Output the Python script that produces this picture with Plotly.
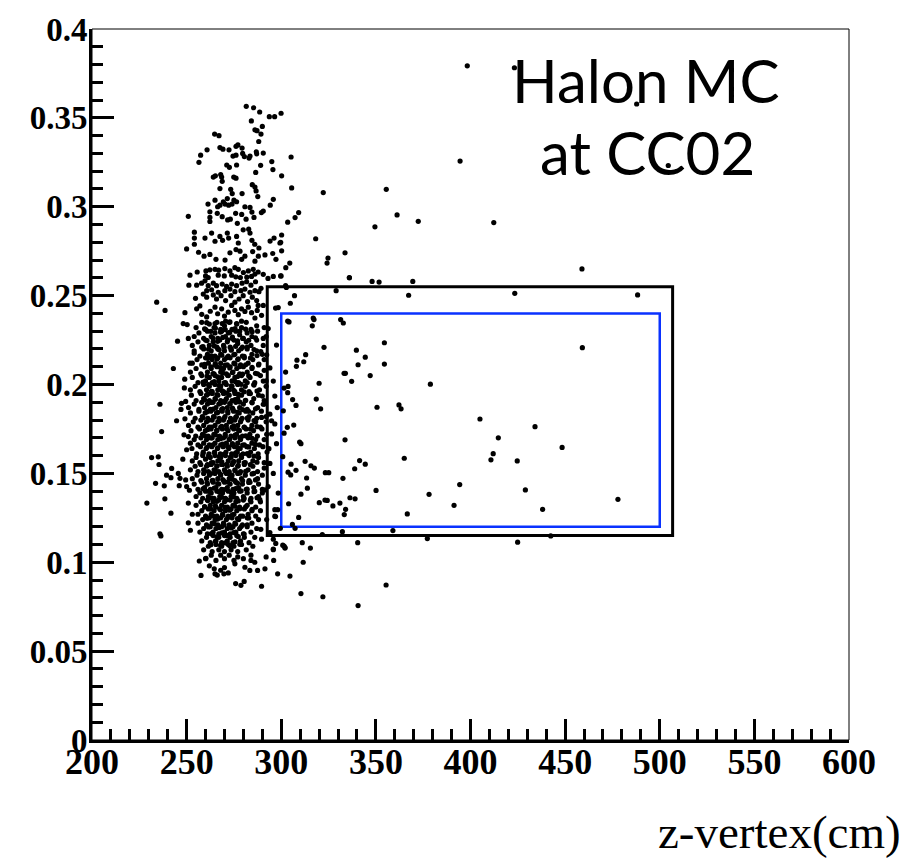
import plotly.graph_objects as go

# ---------------- data (z-vertex [cm], y value) ----------------
x_ticks = [200, 250, 300, 350, 400, 450, 500, 550, 600]
x_ticklabels = ["200", "250", "300", "350", "400", "450", "500", "550", "600"]
y_ticks = [0, 0.05, 0.1, 0.15, 0.2, 0.25, 0.3, 0.35, 0.4]
y_ticklabels = ["0", "0.05", "0.1", "0.15", "0.2", "0.25", "0.3", "0.35", "0.4"]

# selection boxes: [z_min, z_max, y_min, y_max]
box_outer = [292.6, 506.8, 0.115, 0.255]
box_inner = [300.0, 500.0, 0.120, 0.240]

label_lines = ["Halon MC", "at CC02"]
x_title = "z-vertex(cm)"

top_cluster = [
    (281.5,0.3565),(285.4,0.3557),(288.6,0.3533),(293.7,0.3507),(296.5,0.3507),(299.9,0.3526),(284.2,0.3483),
    (290,0.3452),(286.1,0.3433),(287.2,0.3428),(289.3,0.3409),(288.1,0.3367),(264.8,0.3409),(267.1,0.34),
    (257.4,0.329),(260.8,0.332),(256.5,0.325),(267.6,0.3333),(269.2,0.3324),(272.4,0.332),(276.1,0.334),
    (277.1,0.3348),(279.3,0.333),(274.5,0.3285),(276.1,0.329),(280.5,0.3282),(283,0.3274),(283.5,0.3285),
    (279.6,0.33),(286.8,0.3309),(287,0.3298),(290.5,0.3302),(295,0.3254),(271.2,0.3235),(272.6,0.3222),
    (276.4,0.3235),(264.1,0.3167),(265.2,0.3174),(268,0.3181),(268.5,0.3167),(268.8,0.3143),(274.9,0.3167),
    (276.1,0.3161),(289.1,0.3233),(286.5,0.3193),(295.6,0.3209),(267.6,0.3102),(273.3,0.3098),(274.1,0.3074),
    (284.7,0.3124),(286.1,0.3111),(286.7,0.3089),(287.6,0.3057),(279.3,0.3074),(271.5,0.3046),(269.4,0.3028),
    (270.3,0.3015),(272.2,0.3009),(275,0.3037),(276.4,0.3028),(274,0.3015),(280.8,0.3),(283.5,0.2996),
    (261.3,0.3015),(265,0.3037),(266.4,0.3),(267.6,0.3009),(295.8,0.3042),(294.2,0.3009),(290.5,0.2976),
    (289.5,0.2967),(250.9,0.2946),(262.3,0.2972),(262.3,0.294),(262.3,0.2917),(266.2,0.2963),(268.8,0.2944),
    (271.7,0.2926),(273.1,0.293),(275.9,0.2963),(276.8,0.2907),(279.1,0.2957),(281.4,0.293),(282.8,0.2874),
    (284.5,0.297),(285.6,0.294),(254.1,0.2857),(254.1,0.2824),(254.1,0.2789),(250,0.2763),(259.7,0.2824),
    (263.2,0.2852),(265,0.2806),(267.6,0.2833),(269,0.2811),(271.5,0.2852),(272.2,0.2824),(276.4,0.2833),
    (277.3,0.2796),(279.9,0.287),(283.5,0.2852),(284.5,0.2811),(286,0.2789),(288.2,0.2768),(294.1,0.2807),
    (296.2,0.2824),(299.3,0.2796),(256.3,0.2744),(259.2,0.2722),(262.3,0.2732),(265.5,0.2704),(270.3,0.27),
    (272.9,0.2741),(276.1,0.2759),(278.2,0.275),(279.1,0.2704),(280.8,0.2722),(284.9,0.2748),(287.9,0.2722),
    (291.4,0.2729),(295.5,0.2737),(297.2,0.2704),(286.1,0.2694),
]

upper_cluster = [
    (251.8,0.2615),(255.6,0.2633),(260.2,0.2639),(262.3,0.2645),(265,0.2648),(266.9,0.2643),(270.2,0.2652),
    (272.9,0.2639),(275.5,0.2657),(277.3,0.2648),(280,0.263),(282.6,0.2639),(285.2,0.2648),(287.8,0.2633),
    (290.5,0.262),(293,0.2597),(295.8,0.2608),(299.7,0.2611),(260,0.2611),(261.4,0.2602),(266.7,0.2615),
    (269.9,0.2611),(273.8,0.2615),(276,0.2606),(278.4,0.2602),(281.8,0.2604),(284.3,0.2608),(286.1,0.2621),
    (251.2,0.2559),(255.3,0.2559),(257.9,0.257),(259.7,0.2583),(261.4,0.2556),(264.1,0.257),(265.8,0.2556),
    (268.8,0.2565),(271.1,0.2552),(273.8,0.2565),(276.4,0.2556),(279.3,0.257),(281.7,0.2578),(284,0.2559),
    (286.4,0.2578),(289.3,0.2541),(260.6,0.2528),(263.2,0.2533),(266.7,0.2519),(270.2,0.2528),(272.9,0.2537),
    (275.5,0.2522),(278.7,0.2528),(280.8,0.2537),(283.5,0.2519),(286.1,0.2528),(288.2,0.2522),(302.3,0.2556),
    (302.7,0.2546),(254.7,0.2485),(258.8,0.2509),(260.6,0.2491),(264.1,0.2504),(265.8,0.2481),(268.2,0.25),
    (270.6,0.2472),(273.4,0.25),(275.5,0.2463),(277.7,0.2481),(279.9,0.25),(282.2,0.2467),(284.7,0.2491),
    (287,0.2472),(290.5,0.2445),(287.8,0.2445),(234.2,0.2463),(238.6,0.2417),(249.1,0.2404),(255.3,0.2426),
    (260.6,0.238),(260.6,0.2348),(265,0.2435),(266.4,0.2398),(268.5,0.2426),(270,0.2385),(270.6,0.2356),
    (272,0.2407),(273.8,0.2445),(275.5,0.2417),(277.3,0.2393),(279,0.2426),(280.8,0.2411),(282.6,0.2435),
    (284.3,0.2404),(286.1,0.2374),(287.3,0.2417),(289.6,0.2389),(248.2,0.2343),(250.3,0.2337),(265,0.2343),
    (268.8,0.2343),(272.9,0.2352),(276.4,0.2343),(279,0.2356),(262.5,0.2412),(258,0.2395),(257,0.2442),
]

core_high = [
    (255,0.232),(258,0.235),(260,0.231),(262,0.234),(264.5,0.232),(266,0.235),(268,0.231),(270,0.233),
    (272.5,0.235),(274,0.231),(276.5,0.234),(279,0.232),(281.5,0.235),(284,0.231),(287,0.233),(291,0.232),
    (254,0.227),(256.5,0.229),(259,0.226),(261,0.230),(263,0.227),(265,0.229),(266.5,0.226),(268.5,0.230),
    (270.5,0.227),(272,0.229),(274,0.226),(276,0.230),(278,0.228),(280,0.226),(282,0.229),(284.5,0.227),
    (287.5,0.230),(292,0.227),
    (253,0.222),(256,0.224),(258,0.221),(260,0.225),(262,0.222),(264,0.224),(266,0.221),(267.5,0.225),
    (269.5,0.222),(271.5,0.224),(273,0.221),(275,0.225),(277,0.223),(279.5,0.221),(281.5,0.224),(284,0.222),
    (287,0.225),(290.5,0.222),
    (254,0.219),(257,0.216),(259,0.220),(261,0.217),(263,0.219),(265,0.216),(266.5,0.220),(268,0.217),
    (270,0.219),(272,0.216),(273.5,0.220),(275.5,0.217),(277.5,0.219),(279.5,0.216),(282,0.220),(284.5,0.217),
    (287,0.219),(290,0.217),
    (253,0.212),(255.5,0.214),(258,0.211),(260,0.215),(261.5,0.212),(263.5,0.214),(265,0.211),(266.5,0.215),
    (268,0.212),(270,0.214),(271.5,0.211),(273,0.215),(275,0.212),(277,0.214),(278.5,0.211),(280.5,0.215),
    (282.5,0.212),(285,0.214),(288,0.211),(291,0.214),
    (252,0.207),(255,0.209),(257.5,0.206),(259.5,0.210),(261,0.207),(263,0.209),(264.5,0.206),(266,0.210),
    (268,0.207),(269.5,0.209),(271,0.206),(273,0.210),(274.5,0.207),(276.5,0.209),(278,0.206),(280,0.210),
    (282,0.207),(284.5,0.209),(287.5,0.206),(291,0.208),
    (253,0.204),(256,0.201),(258,0.205),(260,0.202),(262,0.204),(263.5,0.201),(265,0.205),(267,0.202),
    (268.5,0.204),(270.5,0.201),(272,0.205),(274,0.202),(275.5,0.204),(277.5,0.201),(279,0.205),(281,0.202),
    (283.5,0.204),(286,0.201),(289,0.205),(292,0.202),
]

core_mid = [
    (252,0.197),(254.5,0.199),(257,0.196),(259,0.200),(260.5,0.197),(262,0.199),(263.5,0.196),(265,0.200),
    (266.5,0.197),(268,0.199),(269.5,0.196),(271,0.200),(272.5,0.197),(274,0.199),(275.5,0.196),(277,0.200),
    (279,0.197),(281,0.199),(283,0.196),(285.5,0.200),(288.5,0.197),(292,0.199),
    (252.5,0.194),(255,0.191),(257.5,0.195),(259,0.192),(260.5,0.194),(262,0.191),(263.5,0.195),(265,0.192),
    (266.5,0.194),(268,0.191),(269.5,0.195),(271,0.192),(272.5,0.194),(274,0.191),(275.5,0.195),(277,0.192),
    (279,0.194),(281,0.191),(283,0.195),(285.5,0.192),(288,0.194),(291,0.191),
    (251,0.187),(254,0.189),(256.5,0.186),(258,0.190),(259.5,0.187),(261,0.189),(262.5,0.186),(264,0.190),
    (265.5,0.187),(267,0.189),(268.5,0.186),(270,0.190),(271.5,0.187),(273,0.189),(274.5,0.186),(276,0.190),
    (278,0.187),(280,0.189),(282,0.186),(284.5,0.190),(287.5,0.187),(291,0.189),
    (252,0.184),(254.5,0.181),(256.5,0.185),(258.3,0.182),(259.8,0.184),(261.2,0.181),(262.8,0.185),(264.2,0.182),
    (265.8,0.184),(267.2,0.181),(268.8,0.185),(270.3,0.182),(271.8,0.184),(273.2,0.181),(274.8,0.185),(276.3,0.182),
    (277.8,0.184),(279.3,0.181),(281.2,0.185),(283,0.182),(285,0.184),(287,0.181),(289.5,0.185),(292,0.182),
    (251,0.177),(253.5,0.179),(256,0.176),(257.5,0.180),(259,0.177),(260.5,0.179),(262,0.176),(263.5,0.180),
    (265,0.177),(266.5,0.179),(268,0.176),(269.5,0.180),(271,0.177),(272.5,0.179),(274,0.176),(275.5,0.180),
    (277,0.177),(278.5,0.179),(280.5,0.176),(282.5,0.180),(284.5,0.177),(286.5,0.179),(289,0.176),(292,0.179),
    (252.3,0.174),(254.8,0.171),(256.8,0.175),(258.4,0.172),(259.9,0.174),(261.4,0.171),(262.9,0.175),(264.4,0.172),
    (265.9,0.174),(267.4,0.171),(268.9,0.175),(270.4,0.172),(271.9,0.174),(273.4,0.171),(274.9,0.175),(276.4,0.172),
    (277.9,0.174),(279.5,0.171),(281.4,0.175),(283.4,0.172),(285.4,0.174),(287.4,0.171),(289.8,0.175),(292.3,0.172),
    (252,0.167),(254,0.169),(256,0.166),(257.5,0.170),(259,0.167),(260.5,0.169),(262,0.166),(263.5,0.170),
    (265,0.167),(266.5,0.169),(268,0.166),(269.5,0.170),(271,0.167),(272.5,0.169),(274,0.166),(275.5,0.170),
    (277,0.167),(278.5,0.169),(280.5,0.166),(282.5,0.170),(284.5,0.167),(286.5,0.169),(288.5,0.166),(291,0.169),
    (252.8,0.164),(255.3,0.161),(257.3,0.165),(258.8,0.162),(260.3,0.164),(261.8,0.161),(263.3,0.165),(264.8,0.162),
    (266.3,0.164),(267.8,0.161),(269.3,0.165),(270.8,0.162),(272.3,0.164),(273.8,0.161),(275.3,0.165),(276.8,0.162),
    (278.3,0.164),(279.8,0.161),(281.8,0.165),(283.8,0.162),(285.8,0.164),(287.8,0.161),(290.3,0.165),(292.5,0.162),
]

core_low = [
    (253,0.157),(255,0.159),(257,0.156),(258.5,0.160),(260,0.158),(261,0.155),(262.5,0.159),(264,0.156),
    (265,0.160),(266.5,0.157),(268,0.159),(269,0.155),(270.5,0.160),(272,0.157),(273,0.159),(274.5,0.156),
    (276,0.160),(277.5,0.157),(279,0.159),(281,0.156),(283,0.160),(285,0.157),(288,0.159),(291,0.156),
    (252,0.152),(254.5,0.154),(256,0.151),(257.5,0.155),(259,0.152),(260.5,0.154),(261.5,0.151),(263,0.155),
    (264.5,0.152),(266,0.154),(267,0.151),(268.5,0.155),(270,0.152),(271.5,0.154),(272.5,0.151),(274,0.155),
    (275.5,0.152),(277,0.154),(278.5,0.151),(280.5,0.155),(282.5,0.152),(285,0.154),(287.5,0.151),(291,0.153),
    (253,0.147),(255.5,0.149),(257.5,0.146),(259,0.150),(260.5,0.147),(262,0.149),(263.5,0.146),(265,0.150),
    (266.5,0.147),(268,0.149),(269.5,0.146),(271,0.150),(272.5,0.147),(274,0.149),(275.5,0.146),(277,0.150),
    (279,0.147),(281,0.149),(283,0.146),(285.5,0.150),(287.5,0.147),(290,0.149),
    (254,0.144),(256,0.141),(258,0.145),(259.5,0.142),(261,0.144),(262.5,0.141),(264,0.145),(265.5,0.142),
    (267,0.144),(268.5,0.141),(270,0.145),(271.5,0.142),(273,0.144),(274.5,0.141),(276,0.145),(277.5,0.142),
    (279.5,0.144),(281.5,0.141),(283.5,0.145),(285.5,0.142),(288,0.144),(290,0.141),
    (255,0.137),(257,0.139),(258.5,0.136),(260,0.140),(261.5,0.137),(263,0.139),(264.5,0.136),(266,0.140),
    (267.5,0.137),(269,0.139),(270.5,0.136),(272,0.140),(273.5,0.137),(275,0.139),(276.5,0.136),(278,0.140),
    (280,0.137),(282,0.139),(284,0.136),(286,0.140),(288,0.137),(290,0.139),
    (255,0.132),(257.5,0.134),(259.5,0.131),(261,0.135),(262.5,0.132),(264,0.134),(265.5,0.131),(267,0.135),
    (268.5,0.132),(270,0.134),(271.5,0.131),(273,0.135),(274.5,0.132),(276,0.134),(278,0.131),(280,0.135),
    (282,0.132),(284,0.134),(286.5,0.131),(289,0.134),
    (256,0.127),(258,0.129),(260,0.126),(261.5,0.130),(263,0.127),(264.5,0.129),(266,0.126),(267.5,0.130),
    (269,0.127),(270.5,0.129),(272,0.126),(273.5,0.130),(275,0.127),(276.5,0.129),(278.5,0.126),(280.5,0.130),
    (282.5,0.127),(284.5,0.129),(286.5,0.126),(289,0.129),
    (256,0.122),(258.5,0.124),(260.5,0.121),(262,0.125),(263.5,0.122),(265,0.124),(266.5,0.121),(268,0.125),
    (269.5,0.122),(271,0.124),(272.5,0.121),(274,0.125),(275.5,0.122),(277.5,0.124),(279.5,0.121),(282,0.125),
    (284.5,0.122),(288,0.124),
    (257,0.117),(259,0.119),(261,0.116),(262.5,0.120),(264,0.117),(265.5,0.119),(267,0.116),(268.5,0.120),
    (270,0.117),(271.5,0.119),(273,0.116),(274.5,0.120),(276,0.117),(278,0.119),(280,0.116),(282,0.120),
    (284,0.117),(287,0.119),
    (258,0.112),(260.5,0.114),(262.5,0.111),(264,0.115),(265.5,0.112),(267,0.114),(268.5,0.111),(270,0.115),
    (271.5,0.112),(273,0.114),(274.5,0.111),(276.5,0.115),(278.5,0.112),(280.5,0.114),(283,0.111),(286,0.114),
    (259,0.107),(261.5,0.109),(263.5,0.106),(265.5,0.110),(267,0.107),(268.5,0.109),(270,0.106),(272,0.110),
    (273.5,0.107),(275,0.109),(277,0.106),(279,0.110),(281.5,0.107),(285,0.109),
    (260,0.102),(263,0.104),(265.5,0.101),(268,0.104),(270,0.102),(272.5,0.104),(275,0.101),(277,0.103),
    (280,0.102),(284,0.104),
]

core_fill = [
    (259.5,0.2313),(262.8,0.2299),(265.2,0.2317),(267.9,0.2295),(270.4,0.2309),(272.8,0.2293),(275.6,0.2315),(278.1,0.2301),(281.2,0.2311),(284.6,0.2297),
    (260.8,0.2247),(263.9,0.2261),(266.4,0.2243),(269.1,0.2265),(271.7,0.2251),(274.2,0.2267),(276.9,0.2245),(279.6,0.2259),(282.8,0.2249),(286.4,0.2263),
    (258.7,0.2213),(261.6,0.2199),(264.6,0.2217),(267.2,0.2195),(269.8,0.2209),(273.6,0.2193),(275.9,0.2215),(278.8,0.2201),(282.0,0.2211),(285.6,0.2197),
    (261.2,0.2147),(263.1,0.2161),(266.0,0.2143),(268.6,0.2165),(271.2,0.2151),(274.9,0.2167),(277.3,0.2145),(280.4,0.2159),(283.7,0.2149),(287.2,0.2163),
    (259.5,0.2113),(262.8,0.2099),(265.2,0.2117),(267.9,0.2095),(270.4,0.2109),(272.8,0.2093),(275.6,0.2115),(278.1,0.2101),(281.2,0.2111),(284.6,0.2097),
    (260.8,0.2047),(263.9,0.2061),(266.4,0.2043),(269.1,0.2065),(271.7,0.2051),(274.2,0.2067),(276.9,0.2045),(279.6,0.2059),(282.8,0.2049),(286.4,0.2063),
    (258.7,0.2013),(261.6,0.1999),(264.6,0.2017),(267.2,0.1995),(269.8,0.2009),(273.6,0.1993),(275.9,0.2015),(278.8,0.2001),(282.0,0.2011),(285.6,0.1997),
    (261.2,0.1947),(263.1,0.1961),(266.0,0.1943),(268.6,0.1965),(271.2,0.1951),(274.9,0.1967),(277.3,0.1945),(280.4,0.1959),(283.7,0.1949),(287.2,0.1963),
    (259.5,0.1913),(262.8,0.1899),(265.2,0.1917),(267.9,0.1895),(270.4,0.1909),(272.8,0.1893),(275.6,0.1915),(278.1,0.1901),(281.2,0.1911),(284.6,0.1897),
    (260.8,0.1847),(263.9,0.1861),(266.4,0.1843),(269.1,0.1865),(271.7,0.1851),(274.2,0.1867),(276.9,0.1845),(279.6,0.1859),(282.8,0.1849),(286.4,0.1863),
    (258.7,0.1813),(261.6,0.1799),(264.6,0.1817),(267.2,0.1795),(269.8,0.1809),(273.6,0.1793),(275.9,0.1815),(278.8,0.1801),(282.0,0.1811),(285.6,0.1797),
    (261.2,0.1747),(263.1,0.1761),(266.0,0.1743),(268.6,0.1765),(271.2,0.1751),(274.9,0.1767),(277.3,0.1745),(280.4,0.1759),(283.7,0.1749),(287.2,0.1763),
    (259.5,0.1713),(262.8,0.1699),(265.2,0.1717),(267.9,0.1695),(270.4,0.1709),(272.8,0.1693),(275.6,0.1715),(278.1,0.1701),(281.2,0.1711),(284.6,0.1697),
    (260.8,0.1647),(263.9,0.1661),(266.4,0.1643),(269.1,0.1665),(271.7,0.1651),(274.2,0.1667),(276.9,0.1645),(279.6,0.1659),(282.8,0.1649),(286.4,0.1663),
    (258.7,0.1613),(261.6,0.1599),(264.6,0.1617),(267.2,0.1595),(269.8,0.1609),(273.6,0.1593),(275.9,0.1615),(278.8,0.1601),(282.0,0.1611),(285.6,0.1597),
    (261.2,0.1547),(263.1,0.1561),(266.0,0.1543),(268.6,0.1565),(271.2,0.1551),(274.9,0.1567),(277.3,0.1545),(280.4,0.1559),(283.7,0.1549),(287.2,0.1563),
    (259.5,0.1513),(262.8,0.1499),(265.2,0.1517),(267.9,0.1495),(270.4,0.1509),(272.8,0.1493),(275.6,0.1515),(278.1,0.1501),(281.2,0.1511),(284.6,0.1497),
    (260.8,0.1447),(263.9,0.1461),(266.4,0.1443),(269.1,0.1465),(271.7,0.1451),(274.2,0.1467),(276.9,0.1445),(279.6,0.1459),(282.8,0.1449),(286.4,0.1463),
    (258.7,0.1413),(261.6,0.1399),(264.6,0.1417),(267.2,0.1395),(269.8,0.1409),(273.6,0.1393),(275.9,0.1415),(278.8,0.1401),(282.0,0.1411),(285.6,0.1397),
    (261.2,0.1347),(263.1,0.1361),(266.0,0.1343),(268.6,0.1365),(271.2,0.1351),(274.9,0.1367),(277.3,0.1345),(280.4,0.1359),(283.7,0.1349),(287.2,0.1363),
    (259.5,0.1313),(262.8,0.1299),(265.2,0.1317),(267.9,0.1295),(270.4,0.1309),(272.8,0.1293),(275.6,0.1315),(278.1,0.1301),(281.2,0.1311),(284.6,0.1297),
    (260.8,0.1247),(263.9,0.1261),(266.4,0.1243),(269.1,0.1265),(271.7,0.1251),(274.2,0.1267),(276.9,0.1245),(279.6,0.1259),(282.8,0.1249),
    (261.6,0.1199),(264.6,0.1217),(267.2,0.1195),(269.8,0.1209),(273.6,0.1193),(275.9,0.1215),(278.8,0.1201),(282.0,0.1211),
    (263.1,0.1161),(266.0,0.1143),(268.6,0.1165),(271.2,0.1151),(274.9,0.1167),(277.3,0.1145),(280.4,0.1159),
    (262.8,0.1099),(265.2,0.1117),(267.9,0.1095),(270.4,0.1109),(272.8,0.1093),(275.6,0.1115),(278.1,0.1101),
]

left_fringe = [
    (245.2,0.2244),(250.9,0.2259),(235.9,0.1889),(236.8,0.1735),(244.7,0.1796),(248.8,0.1981),(247.3,0.1894),
    (249.1,0.1807),(248.6,0.1717),(250.9,0.1707),(250,0.1633),(254,0.2176),(251.8,0.212),(231.5,0.1589),
    (235,0.1593),(235.4,0.155),(239.4,0.149),(242.1,0.1528),(241.7,0.1476),(245.6,0.15),(246.5,0.1472),
    (246.1,0.1431),(249.5,0.1463),(250,0.1426),(233.6,0.1444),(238.2,0.143),(229,0.1333),(238.5,0.1357),
    (241.7,0.1276),(250.9,0.1333),(235.9,0.116),(236.4,0.1148),(250.9,0.1222),(252,0.118),(253,0.127),
    (248,0.158),(247,0.186),(243,0.209),(249,0.203),(251.5,0.1405),(249.5,0.1905),
]

right_fringe = [
    (290.5,0.2259),(289.2,0.2185),(288.2,0.2115),(290.5,0.2019),(290,0.1935),(290.5,0.1889),(289.6,0.1815),
    (294,0.1833),(294.9,0.1796),(296.6,0.1778),(297.9,0.187),(295.8,0.2019),(293.1,0.2315),(292.3,0.2167),
    (297.5,0.2222),(294,0.2093),(296.6,0.1935),(294.9,0.1722),(297.5,0.1667),(293.5,0.1639),(288.7,0.1352),
    (296.6,0.1296),(296.6,0.1259),(294,0.1556),(295.8,0.15),(293.1,0.1426),(298.4,0.1389),(292.3,0.124),
    (294,0.1167),(289.6,0.113),(295.8,0.113),(295.8,0.1074),(289.2,0.1185),(291.4,0.1407),
]

low_tail = [
    (256.7,0.1007),(260.2,0.1022),(257.6,0.0926),(265,0.0935),(264.6,0.0963),(268,0.0955),(270,0.097),
    (275.5,0.0991),(280.8,0.0972),(283.4,0.0954),(287.5,0.0954),(291.4,0.0963),(298.1,0.0935),(304.6,0.0922),
    (275.9,0.088),(278.7,0.087),(280.4,0.0892),(289.6,0.0865),(310.4,0.0824),(311.6,0.1),(322,0.0806),
    (340.6,0.0756),(355.4,0.0872),(286,0.1),(262,0.098),(272,0.094),(284,0.101),(292,0.103),(296,0.101),
    (302,0.1083),(300.8,0.1096),(269.7,0.0935),(266.2,0.0928),
]

upper_right = [
    (398.3,0.3793),(423.2,0.3782),(487.8,0.3578),(504.5,0.3232),(394.5,0.3257),(305.2,0.328),(300.2,0.3174),
    (305.5,0.3106),(322.2,0.308),(355.5,0.3098),(361.2,0.2954),(372.4,0.2918),(412.3,0.2911),(349.5,0.2887),
    (303.4,0.2913),(307.3,0.2939),(309.2,0.2967),(300.2,0.2841),(299.7,0.28),(300.2,0.2752),(318.2,0.282),
    (333.7,0.2741),(324.7,0.2711),(324.2,0.2683),(304.5,0.2683),(302.4,0.2657),(299.9,0.2611),(336,0.2602),
]

box_region = [
    (458.9,0.265),(336,0.26),(348,0.258),(351.7,0.2576),(369.5,0.258),(329,0.2528),(367.3,0.2502),(423.4,0.2513),
    (488.3,0.2504),(307,0.25),(304.8,0.2457),(297,0.243),(298.4,0.2433),(303.4,0.2357),(304.1,0.2352),
    (316.9,0.2374),(317.3,0.2365),(316.4,0.233),(331.4,0.2365),(332.8,0.2346),(322.6,0.2209),(354.5,0.2235),
    (339.7,0.2193),(459.1,0.2207),(312.9,0.2168),(308.3,0.2137),(311.9,0.2128),(308,0.2102),(344.4,0.2154),
    (340.6,0.2111),(354.5,0.2115),(333.2,0.2063),(333.9,0.2063),(347,0.205),(337.2,0.2018),(320,0.2007),
    (378.8,0.2002),(302.3,0.207),(303.6,0.1989),(301.5,0.198),(303.4,0.1954),(306,0.1915),(307.8,0.1882),
    (318.5,0.1918),(320.8,0.1863),(350.6,0.1872),(362.2,0.1885),(363.3,0.1863),(405,0.1806),(434.1,0.1763),
    (414.7,0.17),(448.4,0.1646),(301.1,0.1852),(306.6,0.1772),(303.2,0.1759),(301.5,0.1726),(309.7,0.1676),
    (310.4,0.1667),(333.7,0.1689),(412,0.1611),(410.8,0.1576),(424.7,0.157),(365,0.1585),(300.8,0.1594),
    (305.2,0.1552),(312.6,0.1568),(315.7,0.1543),(317.5,0.153),(341.4,0.1572),(344.4,0.1552),(338.8,0.1526),
    (307.8,0.1517),(303.6,0.1507),(305,0.1491),(323.3,0.1504),(325.1,0.1504),(313.4,0.1474),(332.6,0.1472),
    (394.3,0.1437),(310.4,0.1383),(313.8,0.1417),(350.1,0.1404),(378.1,0.1382),(429,0.1407),(477.9,0.1354),
    (336.3,0.1363),(339,0.1357),(320.1,0.1335),(323.1,0.135),(324.3,0.1348),(331,0.1333),(327.3,0.1317),
    (334,0.1298),(333.3,0.1268),(303.9,0.1329),(298.1,0.1296),(297,0.1257),(309.2,0.1252),(366.6,0.1272),
    (391.3,0.132),(438.1,0.1298),(305.9,0.1213),(307.3,0.1191),(299.5,0.1191),(332.3,0.1172),(359,0.1178),
    (321.7,0.1156),(377.2,0.1133),(424.9,0.1113),(442.4,0.1148),(340.4,0.111),(311.1,0.111),(315.4,0.108),
    (297.1,0.1106),(301.5,0.1091),(302,0.108),(295.8,0.1071),
]

# ---------------- figure ----------------
groups = [top_cluster, upper_cluster, core_high, core_mid, core_low, core_fill,
          left_fringe, right_fringe, low_tail, upper_right, box_region]
xs = [p[0] for g in groups for p in g]
ys = [p[1] for g in groups for p in g]

fig = go.Figure()
fig.add_trace(go.Scatter(x=xs, y=ys, mode="markers",
                         marker=dict(size=5.2, color="black", line=dict(width=0)),
                         hoverinfo="skip", showlegend=False))

tick_font = dict(family="Liberation Serif", color="black", weight="bold")

fig.update_layout(
    width=910, height=860,
    margin=dict(l=92, r=61, t=20, b=120),
    paper_bgcolor="white", plot_bgcolor="white",
    xaxis=dict(range=[200, 600], tickvals=x_ticks, ticktext=x_ticklabels,
               ticks="inside", ticklen=21, tickwidth=3, tickcolor="black",
               minor=dict(ticks="inside", ticklen=11, tickwidth=3, tickcolor="black", dtick=10, tick0=200),
               showline=True, linewidth=3, linecolor="black", mirror=False,
               showgrid=False, zeroline=False, ticklabelstandoff=-12,
               tickfont=dict(size=36, **tick_font)),
    yaxis=dict(range=[0, 0.4], tickvals=y_ticks, ticktext=y_ticklabels,
               ticks="inside", ticklen=22, tickwidth=3, tickcolor="black",
               minor=dict(ticks="inside", ticklen=11, tickwidth=3, tickcolor="black", dtick=0.01, tick0=0),
               showline=True, linewidth=3, linecolor="black", mirror=False,
               showgrid=False, zeroline=False, ticklabelstandoff=-5,
               tickfont=dict(size=33, **tick_font)),
)

# frame (thin top/right)
fig.add_shape(type="rect", xref="paper", yref="paper", x0=0, x1=1, y0=0, y1=1,
              line=dict(color="black", width=1), layer="below")

# selection boxes
fig.add_shape(type="rect", xref="x", yref="y",
              x0=box_outer[0], x1=box_outer[1], y0=box_outer[2], y1=box_outer[3],
              line=dict(color="black", width=3), layer="below")
fig.add_shape(type="rect", xref="x", yref="y",
              x0=box_inner[0], x1=box_inner[1], y0=box_inner[2], y1=box_inner[3],
              line=dict(color="#0a32ff", width=2.5), layer="below")

# label text
fig.add_annotation(x=492.7, y=0.3711, xref="x", yref="y", text=label_lines[0], showarrow=False,
                   xanchor="center", yanchor="middle",
                   font=dict(family="Lato", size=60, color="black"))
fig.add_annotation(x=493.5, y=0.3306, xref="x", yref="y", text=label_lines[1], showarrow=False,
                   xanchor="center", yanchor="middle",
                   font=dict(family="Lato", size=60, color="black"))

# axis title (bottom right)
fig.add_annotation(x=(903 - 92) / 757, y=-0.129, xref="paper", yref="paper", text=x_title,
                   showarrow=False, xanchor="right", yanchor="middle",
                   font=dict(family="Liberation Serif", size=47, color="black"))

fig.write_html("out.html")
